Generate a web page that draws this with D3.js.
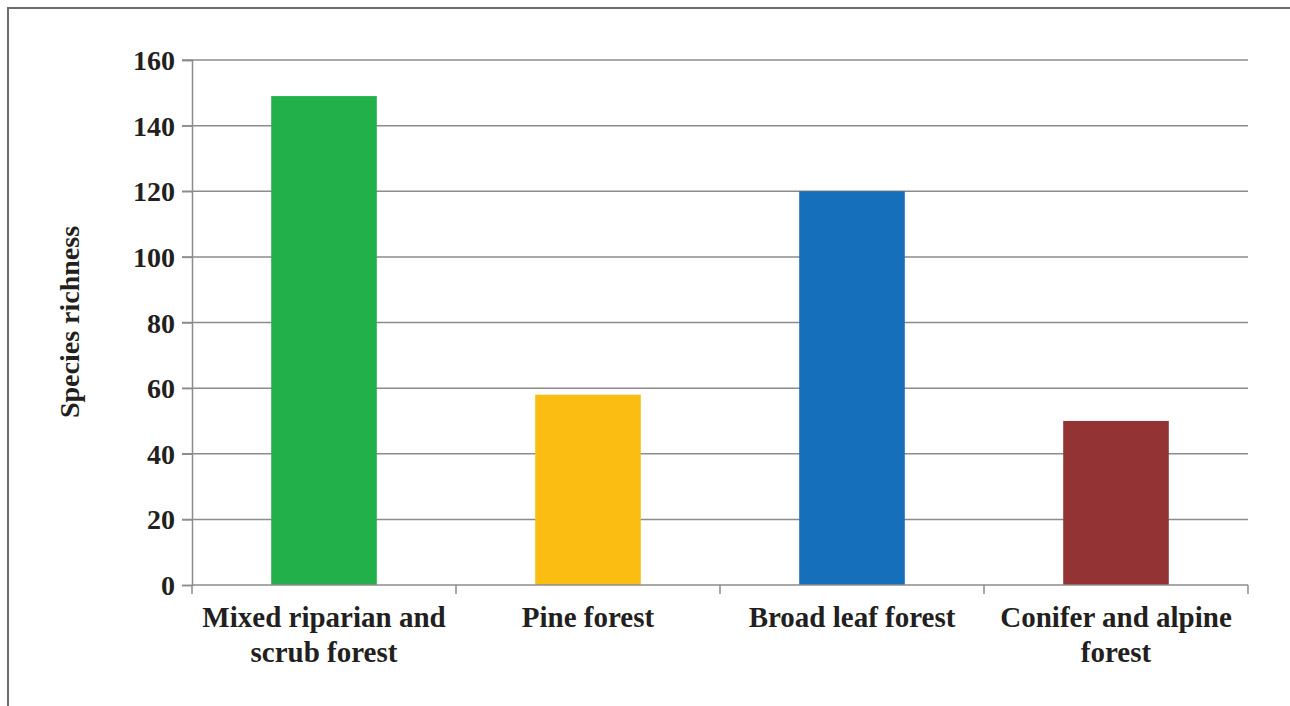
<!DOCTYPE html>
<html>
<head>
<meta charset="utf-8">
<script src="https://cdn.jsdelivr.net/npm/d3@7"></script>
<style>
  body { margin: 0; background: #fff; }
  svg { display: block; }
  .tick-label { font-family: "Liberation Serif", "Times New Roman", serif; font-weight: bold; fill: #231f20; }
</style>
</head>
<body>
<svg id="chart"></svg>
<script>
// chart data
const categories = ['Mixed riparian and scrub forest', 'Pine forest', 'Broad leaf forest', 'Conifer and alpine forest'];
const labelLines = [['Mixed riparian and', 'scrub forest'], ['Pine forest'], ['Broad leaf forest'], ['Conifer and alpine', 'forest']];
const richness = [149, 58, 120, 50];
const barColors = ['#22b04b', '#fbbd11', '#166fbb', '#943333'];
const yTicks = [0, 20, 40, 60, 80, 100, 120, 140, 160];

const config = {
    width: 1290,
    height: 706,
    margin: {top: 60, right: 42, bottom: 121, left: 192}
};

const svg = d3.select('#chart')
    .attr('width', config.width)
    .attr('height', config.height);

// frame around the figure (left + top edges visible)
svg.append('path')
    .attr('d', `M8,706 V8 H1290`)
    .attr('fill', 'none')
    .attr('stroke', '#6d6d6d')
    .attr('stroke-width', 2);

const innerW = config.width - config.margin.left - config.margin.right;
const innerH = config.height - config.margin.top - config.margin.bottom;

const chart = svg.append('g')
    .attr('transform', `translate(${config.margin.left},${config.margin.top})`);

const xScale = d3.scaleBand()
    .domain(categories)
    .range([0, innerW])
    .padding(0);

const yScale = d3.scaleLinear()
    .domain([0, 160])
    .range([innerH, 0]);

// gridlines
chart.selectAll('.grid')
    .data(yTicks.filter(d => d > 0))
    .join('line')
    .attr('class', 'grid')
    .attr('x1', -10)
    .attr('x2', innerW)
    .attr('y1', d => yScale(d))
    .attr('y2', d => yScale(d))
    .attr('stroke', '#8c8c8c')
    .attr('stroke-width', 1.5);

// bars
const barW = xScale.bandwidth() * 0.4;
chart.selectAll('.bar')
    .data(richness)
    .join('rect')
    .attr('class', 'bar')
    .attr('x', (d, i) => xScale(categories[i]) + (xScale.bandwidth() - barW) / 2)
    .attr('y', d => yScale(d))
    .attr('width', barW)
    .attr('height', d => innerH - yScale(d))
    .attr('fill', (d, i) => barColors[i]);

// y axis
const yAxis = d3.axisLeft(yScale)
    .tickValues(yTicks)
    .tickSize(10)
    .tickPadding(7);

const yAxisG = chart.append('g').call(yAxis);
yAxisG.select('.domain').attr('stroke', '#8c8c8c').attr('stroke-width', 1.5);
yAxisG.selectAll('.tick line').attr('stroke', '#8c8c8c').attr('stroke-width', 1.5);
yAxisG.selectAll('.tick text')
    .attr('class', 'tick-label')
    .style('font-size', '28px')
    .attr('dy', '0.34em');

// x axis: ticks on band boundaries
chart.append('line')
    .attr('x1', 0).attr('x2', innerW)
    .attr('y1', innerH).attr('y2', innerH)
    .attr('stroke', '#8c8c8c')
    .attr('stroke-width', 1.5);

const boundaries = categories.map(c => xScale(c)).concat([innerW]);
chart.selectAll('.xtick')
    .data(boundaries)
    .join('line')
    .attr('class', 'xtick')
    .attr('x1', d => d).attr('x2', d => d)
    .attr('y1', innerH).attr('y2', innerH + 9)
    .attr('stroke', '#8c8c8c')
    .attr('stroke-width', 1.5);

// category labels
chart.selectAll('.cat-label')
    .data(labelLines)
    .join('text')
    .attr('class', 'cat-label tick-label')
    .attr('text-anchor', 'middle')
    .style('font-size', '29px')
    .attr('transform', (d, i) => `translate(${xScale(categories[i]) + xScale.bandwidth() / 2},${innerH + 42})`)
    .selectAll('tspan')
    .data(d => d)
    .join('tspan')
    .attr('x', 0)
    .attr('y', (d, i) => i * 35)
    .text(d => d);

// y axis title
svg.append('text')
    .attr('class', 'tick-label')
    .attr('transform', 'translate(79,322) rotate(-90)')
    .attr('text-anchor', 'middle')
    .style('font-size', '28px')
    .text('Species richness');
</script>
</body>
</html>
